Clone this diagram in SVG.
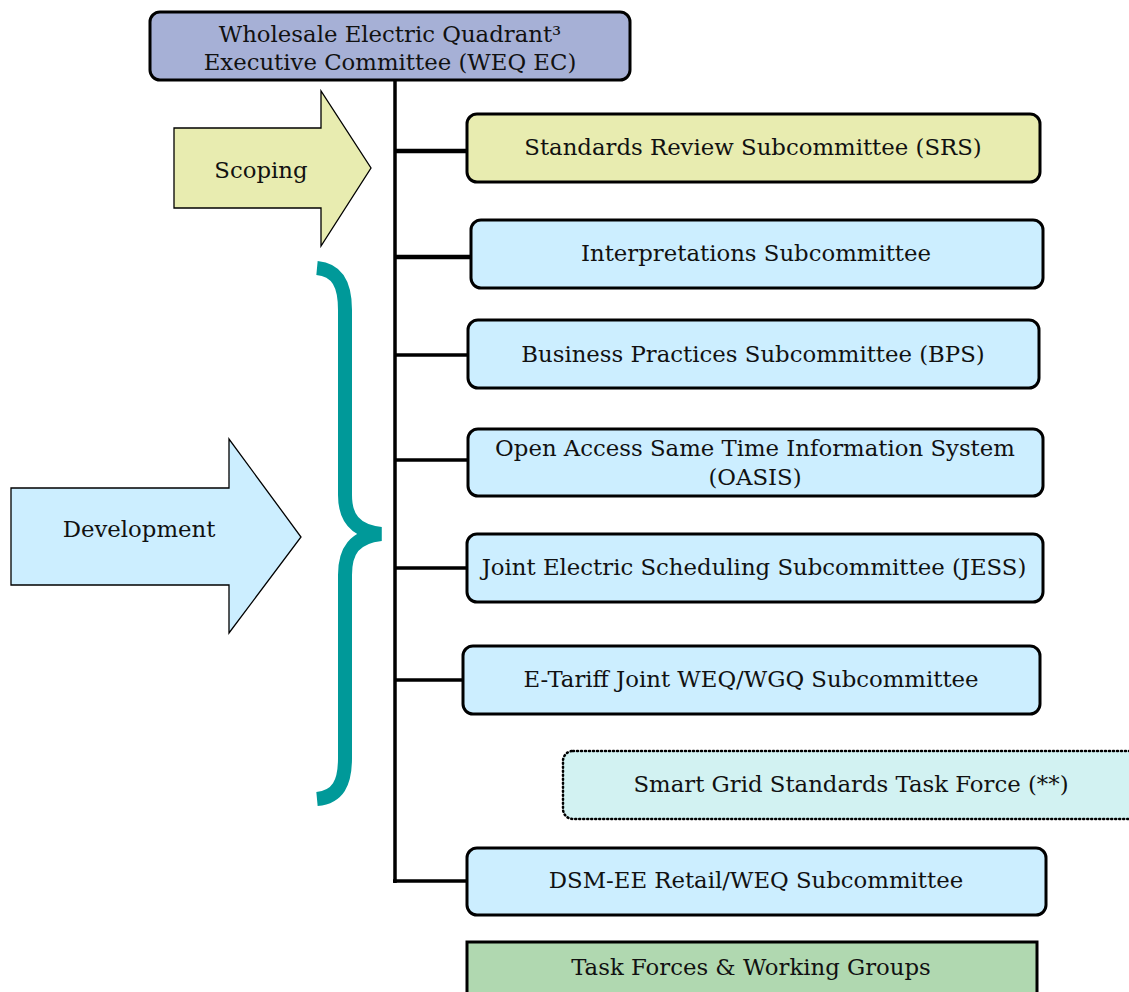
<svg xmlns="http://www.w3.org/2000/svg" width="1129" height="992" viewBox="0 0 1129 992">
<style>
text{font-family:"DejaVu Serif","Liberation Serif",serif;font-size:22.8px;fill:#111;text-anchor:middle}
.box{stroke:#000;stroke-width:3}
.yel{fill:#e8ecb0}
.blu{fill:#cceeff}
.conn{stroke:#000;stroke-width:3.5;fill:none}
</style>
<rect width="1129" height="992" fill="#fff"/>
<g id="connectors">
<line class="conn" x1="395" y1="80" x2="395" y2="883"/>
<line class="conn" x1="395" y1="151" x2="474" y2="151" style="stroke-width:4.5"/>
<line class="conn" x1="395" y1="257" x2="472" y2="257" style="stroke-width:4.5"/>
<line class="conn" x1="395" y1="355" x2="469" y2="355"/>
<line class="conn" x1="395" y1="460" x2="469" y2="460"/>
<line class="conn" x1="395" y1="568" x2="468" y2="568"/>
<line class="conn" x1="395" y1="680" x2="464" y2="680"/>
<line class="conn" x1="393" y1="881" x2="468" y2="881"/>
</g>
<g id="scoping">
<path d="M174,128 H321 V91 L371,168 L321,246 V208 H174 Z" fill="#e8ecb0" stroke="#000" stroke-width="1.3"/>
<text x="261" y="178">Scoping</text>
</g>
<g id="development">
<path d="M11,488 H229 V439 L301,537 L229,633 V585 H11 Z" fill="#cceeff" stroke="#000" stroke-width="1.3"/>
<text x="139" y="537">Development</text>
</g>
<g id="brace">
<path d="M317,268 C338,270 345,285 345,310 V495 C345,517 354,531 381,534 C354,537 345,551 345,575 V758 C345,783 338,797 317,799" fill="none" stroke="#009999" stroke-width="14"/>
</g>
<g id="weq-ec">
<rect class="box" x="150" y="12" width="480" height="68" rx="10" fill="#a6b0d6"/>
<text x="390" y="42">Wholesale Electric Quadrant³</text>
<text x="390" y="70">Executive Committee (WEQ EC)</text>
</g>
<g id="srs">
<rect class="box yel" x="467" y="114" width="573" height="68" rx="10"/>
<text x="753" y="155">Standards Review Subcommittee (SRS)</text>
</g>
<g id="interpretations">
<rect class="box blu" x="471" y="220" width="572" height="68" rx="10"/>
<text x="756" y="261">Interpretations Subcommittee</text>
</g>
<g id="bps">
<rect class="box blu" x="468" y="320" width="571" height="68" rx="10"/>
<text x="753" y="362">Business Practices Subcommittee (BPS)</text>
</g>
<g id="oasis">
<rect class="box blu" x="468" y="429" width="575" height="67" rx="10"/>
<text x="755" y="456">Open Access Same Time Information System</text>
<text x="755" y="485">(OASIS)</text>
</g>
<g id="jess">
<rect class="box blu" x="467" y="534" width="576" height="68" rx="10"/>
<text x="754" y="575">Joint Electric Scheduling Subcommittee (JESS)</text>
</g>
<g id="etariff">
<rect class="box blu" x="463" y="646" width="577" height="68" rx="10"/>
<text x="751" y="687">E-Tariff Joint WEQ/WGQ Subcommittee</text>
</g>
<g id="smartgrid">
<rect x="563" y="751" width="600" height="68" rx="10" fill="#d2f2f2" stroke="#000" stroke-width="2.5" stroke-dasharray="1,3" stroke-linecap="round"/>
<text x="851" y="792">Smart Grid Standards Task Force (**)</text>
</g>
<g id="dsm">
<rect class="box blu" x="467" y="848" width="579" height="67" rx="10"/>
<text x="756" y="888">DSM-EE Retail/WEQ Subcommittee</text>
</g>
<g id="taskforces">
<rect class="box" x="467" y="942" width="570" height="60" fill="#b0d8b0"/>
<text x="751" y="975">Task Forces &amp; Working Groups</text>
</g>
</svg>
